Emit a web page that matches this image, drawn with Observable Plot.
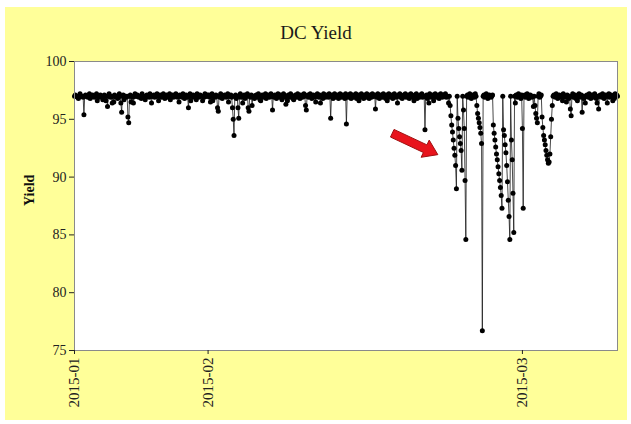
<!DOCTYPE html>
<html><head><meta charset="utf-8">
<script src="https://cdn.jsdelivr.net/npm/d3@7"></script>
<script src="https://cdn.jsdelivr.net/npm/@observablehq/plot@0.6"></script>
<style>
body{margin:0;background:#fff;}
#card{position:absolute;left:5px;top:7px;width:622px;height:413px;background:#ffff99;}
#title{height:40px;box-sizing:border-box;padding-top:16px;text-align:center;font-family:"Liberation Serif",serif;font-size:19px;line-height:20px;color:#1a1a1a;}
#chart svg{display:block;}
</style></head>
<body><div id="card"><div id="title">DC Yield</div><div id="chart"></div></div>
<script>
const months = ["2015-01", "2015-02", "2015-03"];
const yTicks = [75, 80, 85, 90, 95, 100];

const janYield = [
97,97.1,97,97,96.9,96.8,97,97.2,97,97,
97,96.9,95.4,97,97.1,97,97,96.9,97,97.2,
96.8,97,97,97.1,97,96.9,97,97,97.2,96.6,
97,97,96.9,97.1,97,97,96.7,97,97.1,97,
96.6,97,96.1,97,97.2,97,96.9,97,96.4,97,
96.5,97.1,97,96.9,97,96.8,97,97.2,97,96.4,
95.6,97,97.1,96.7,97,97,96.9,97,95.2,94.7,
97,97.1,96.5,97,96.9,96.4,97,97.2,97,97,
97.1,97,96.9,97,97,96.8,97.2,97,97,96.9,
96.7,97,97.1,97,97,96.9,97.2,97,96.4,97,
97,97.1,96.9,97,97,97.2,97,96.6,97,97.1,
97,96.9,97,97.2,97,96.8,97,97.1,97,96.9,
97,97.2,96.7,97,97,97.1,96.9,97,97,97.2,
97,96.9,97,96.5,97.1,97,97,96.9,97.2,97,
96.8,97,97.1,97,96.9,96.0,97,97.2,96.6,97,
97,97.1,96.9,97,97,96.7,97.2,97,96.9,97,
97.1,97,97,96.6,97,96.9,97.2,97,97,97.1
];

const febYield = [
97,97.1,96.9,96.5,97,97.2,96.6,97,97,96.9,
97.1,97,96.0,95.7,97,96.9,97.2,97,96.8,97,
97,97.1,97,96.9,97,97.2,96.5,97,97,97.1,
96.9,96.0,95.0,93.6,97,97.1,96.8,97,96.0,95.1,
97,97.2,96.9,97,96.4,97,97.1,96.8,97,97,
97.2,96.0,95.7,97,96.9,97.1,96.2,97,97,96.8,
97,97.1,97,96.9,97.2,97,96.7,96.6,97,97.1,
97,96.9,97,97.2,96.8,97,97.1,97,96.9,97,
97.2,97,95.8,97,96.9,97.1,97,96.8,97,97.2,
97,96.9,97.1,97,96.7,97,97.2,97,96.9,96.3,
97,96.6,97.1,97,96.9,97.2,97,97,96.8,96.7,
97,97.1,97,96.9,97.2,97,97,96.8,97.1,97,
96.9,97,97.2,97,96.2,95.8,97,97.1,96.9,97,
97.2,97,96.8,97,97.1,96.9,97,96.5,97,97.2,
97,96.9,97.1,96.4,97,97,96.8,97.2,97,96.9,
97.1,97,97,96.9,97.2,97,95.1,97,97.1,96.8,
97,97.2,96.9,97,97,97.1,96.8,97,97.2,97,
96.9,97.1,97,97,96.8,97.2,94.6,97,96.9,97.1,
97,97.2,96.8,97,97.1,96.9,97,97,97.2,96.8,
97,97.1,96.6,97,96.9,97.2,97,97,96.8,97.1,
97,96.9,97.2,97,97,96.8,97.1,97,96.9,97.2,
97,97,97.1,95.9,97,96.9,97.2,97,96.8,97,
97.1,97,96.9,97.2,97,97,96.8,97.1,96.6,97,
97.2,96.9,97,97,97.1,96.8,97,97.2,97,96.9,
97,96.4,97.1,97,97.2,96.9,97,96.8,97,97.1,
97,97.2,96.9,97,97,97.1,96.8,97,97.2,97,
96.9,97,96.6,97.1,97,97.2,96.8,97,97,96.9,
97.1,97,97.2,96.9,97,97,94.1,97,97.1,96.8,
97,96.4,97.2,97,96.9,97,97.1,96.6,97,97.2,
96.9,97,97,97.1,96.8,97,97.2,97,96.9,97,
97.1,97,97.2,96.9,97,97,96.4,97,96.2,95.3,
94.5,93.9,93.2,92.5,91.9,91.0,89.0,97,95.1,94.2,
93.5,92.9,92.3,90.6,97,95.8,94.2,89.7,84.6,97,
97.1,96.9,97,97.2,97,96.8,97,97.1,97,96.9,
97.2,97,96.2,95.5,95.1,94.7,94.3,93.8,92.9,76.7,
97,97.1,96.9,97,97.2,97,96.8,97,97.1,97,
96.9,97,97.1,94.5,93.8,93.2,92.6,92.0,91.5,90.9,
90.3,89.7,89.1,88.4,87.3,97,94.1,93.6,92.8,92.1,
91.0,89.6,88.0,86.6,84.6,97,93.2,91.5,88.6,85.2,
97,96.4,97.1,97,96.9,97.2,97,97,96.8,97.1
];

const marYield = [
94.2,87.3,97,97.1,96.9,97,97.2,97,96.8,97,
97.1,97,96.9,97,96.1,97,96.2,95.5,95.1,94.7,
97,97.2,96.9,97,97.1,95.2,94.3,93.6,93.2,92.8,
92.3,91.9,91.5,91.2,91.3,92.0,93.5,95.0,96.2,97,
97.1,97,96.9,97.2,97,96.8,97,97.1,97,96.9,
97,96.6,97.2,97,96.9,97,96.5,97.1,97,96.8,
97,95.9,95.3,97,97.2,96.9,97,97.1,96.8,97,
96.6,97,97.2,96.9,97,97.1,95.6,97,96.8,97,
96.4,97,97.1,97,96.9,97.2,97,96.8,97,97.1,
97,96.9,97.2,97,96.8,96.4,97,95.9,97,97.1,
97,96.9,97.2,97,96.8,97,97.1,97,96.4,97,
97.2,96.9,97,97.1,97,96.6,97,96.8,97.2,97,
97.1,97
];

// annotation arrow (tail -> head), in data units (sample sequence, yield)
const arrowFrom = {seq: 405, value: 93.75};
const arrowTo = {seq: 463, value: 91.9};

const series = [janYield, febYield, marYield];
const monthStart = [];
const data = [];
let seq = 0;
series.forEach((arr, m) => {
  monthStart.push(seq);
  arr.forEach(v => { data.push({seq, value: v, month: months[m]}); seq++; });
});
const lastSeq = seq - 1;

function redArrow(index, scales) {
  const x = scales.x, y = scales.y;
  const x1 = x(arrowFrom.seq), y1 = y(arrowFrom.value);
  const x2 = x(arrowTo.seq), y2 = y(arrowTo.value);
  const dx = x2 - x1, dy = y2 - y1, len = Math.hypot(dx, dy);
  const ux = dx / len, uy = dy / len, nx = -uy, ny = ux;
  const hw = 4.2, hh = 9.5, hl = 14;
  const bx = x2 - ux * hl, by = y2 - uy * hl;
  const pts = [
    [x1 + nx * hw, y1 + ny * hw], [bx + nx * hw, by + ny * hw], [bx + nx * hh, by + ny * hh],
    [x2, y2], [bx - nx * hh, by - ny * hh], [bx - nx * hw, by - ny * hw], [x1 - nx * hw, y1 - ny * hw]
  ];
  return d3.create("svg:polygon")
    .attr("points", pts.map(p => p.join(",")).join(" "))
    .attr("fill", "#e8141c").attr("stroke", "#a01010").attr("stroke-width", 1)
    .node();
}

const chart = Plot.plot({
  width: 622,
  height: 373,
  marginTop: 14,
  marginLeft: 69,
  marginRight: 10,
  marginBottom: 70,
  style: {fontFamily: "'Liberation Serif', serif", fontSize: "14px", color: "#222", background: "transparent"},
  x: {type: "linear", domain: [0, lastSeq], label: null},
  y: {domain: [75, 100], label: null},
  marks: [
    Plot.frame({fill: "white", stroke: null}),
    Plot.line(data, {x: "seq", y: "value", stroke: "#1a1a1a", strokeWidth: 0.8}),
    Plot.dot(data, {x: "seq", y: "value", r: 2.5, fill: "black", stroke: null}),
    redArrow,
    Plot.frame({stroke: "#8a8a8a"}),
    Plot.axisY({ticks: yTicks, tickSize: 5, tickPadding: 3, fontSize: 14, label: null}),
    Plot.axisX({ticks: monthStart, tickFormat: d => months[monthStart.indexOf(d)], tickRotate: -90, tickSize: 4, tickPadding: 3, fontSize: 15, label: null}),
    Plot.text(["Yield"], {frameAnchor: "left", text: d => d, rotate: -90, dx: -45, fontWeight: "bold", fontSize: 14, fill: "#111"})
  ]
});
document.getElementById("chart").appendChild(chart);
</script>
</body></html>
